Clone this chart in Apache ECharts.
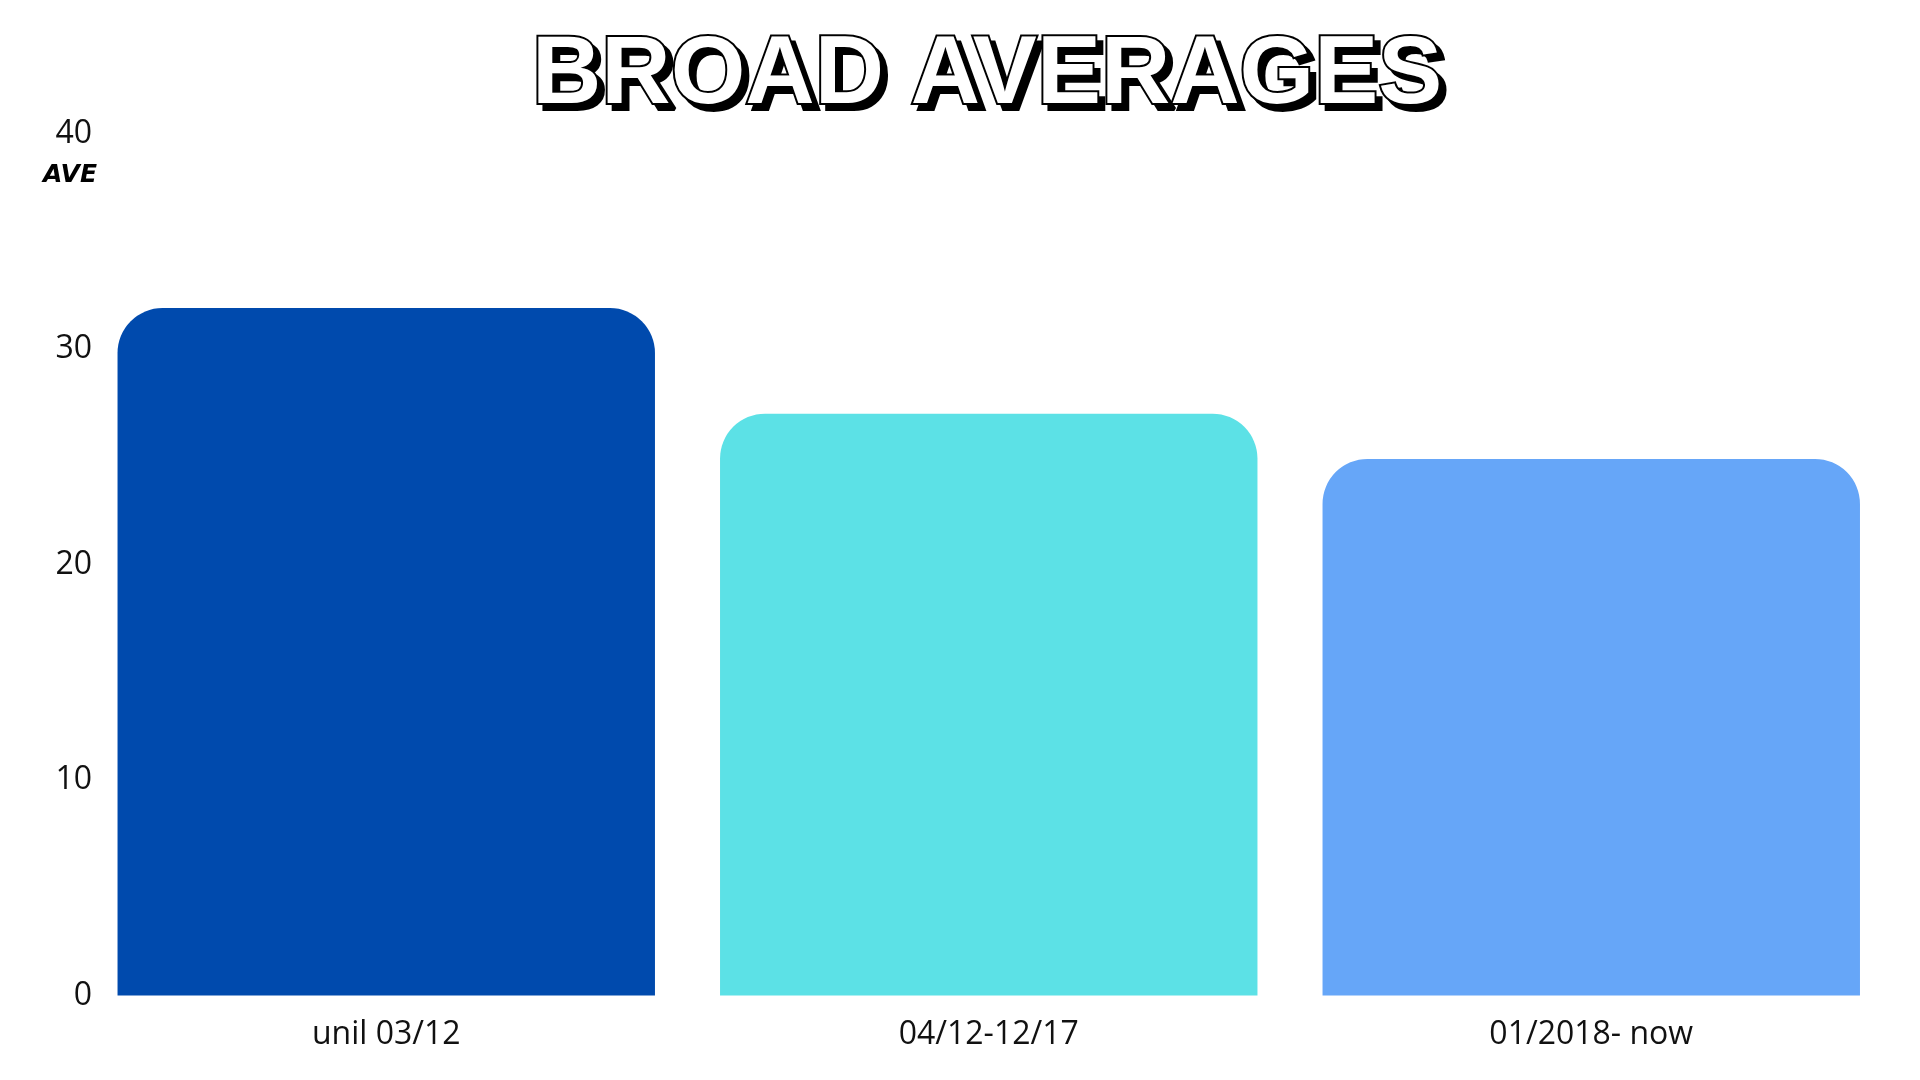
<!DOCTYPE html>
<html>
<head>
<meta charset="utf-8">
<script src="https://cdn.jsdelivr.net/npm/echarts@6/dist/echarts.min.js"></script>
<style>html,body{margin:0;padding:0;background:#fff}#c{width:1920px;height:1080px}</style>
</head>
<body>
<div id="c"></div>
<script>
const categories = ['unil 03/12', '04/12-12/17', '01/2018- now'];
const values = [31.9, 27.0, 24.9];
const barColors = ['#004AAD', '#5CE1E6', '#66A6F8'];
const yTicks = [0, 10, 20, 30, 40];
const titleText = 'BROAD AVERAGES';

const titleBase = { fontFamily: 'Liberation Sans', fontWeight: 'bold', fontSize: 96 };
const chart = echarts.init(document.getElementById('c'));
chart.setOption({
  backgroundColor: '#ffffff',
  animation: false,
  title: [{
    text: titleText,
    left: 533,
    top: 30,
    textStyle: Object.assign({}, titleBase, { color: '#000', textBorderColor: '#000', textBorderWidth: 4 })
  }, {
    text: titleText,
    left: 527,
    top: 24,
    textStyle: Object.assign({}, titleBase, { color: '#fff', textBorderColor: '#000', textBorderWidth: 4 })
  }],
  grid: { left: 85, right: 27.5, top: 133.5, bottom: 84.5, containLabel: false },
  xAxis: {
    type: 'category',
    data: categories,
    axisLine: { show: false },
    axisTick: { show: false },
    axisLabel: { fontFamily: 'Open Sans', fontSize: 32, color: '#111', margin: 23 }
  },
  yAxis: {
    type: 'value',
    min: yTicks[0],
    max: yTicks[yTicks.length - 1],
    interval: 10,
    name: 'AVE',
    nameLocation: 'end',
    nameGap: -54,
    nameTextStyle: {
      fontFamily: 'DejaVu Sans', fontWeight: 'bold', fontStyle: 'italic',
      fontSize: 25, color: '#000', align: 'center', padding: [0, 30, 0, 0]
    },
    splitLine: { show: false },
    axisLine: { show: false },
    axisTick: { show: false },
    axisLabel: { fontFamily: 'Open Sans', fontSize: 32, color: '#111', margin: -7 }
  },
  series: [{
    type: 'bar',
    barCategoryGap: '10.8%',
    data: values.map((v, i) => ({ value: v, itemStyle: { color: barColors[i] } })),
    itemStyle: { borderRadius: [45, 45, 0, 0] }
  }]
});
</script>
</body>
</html>
